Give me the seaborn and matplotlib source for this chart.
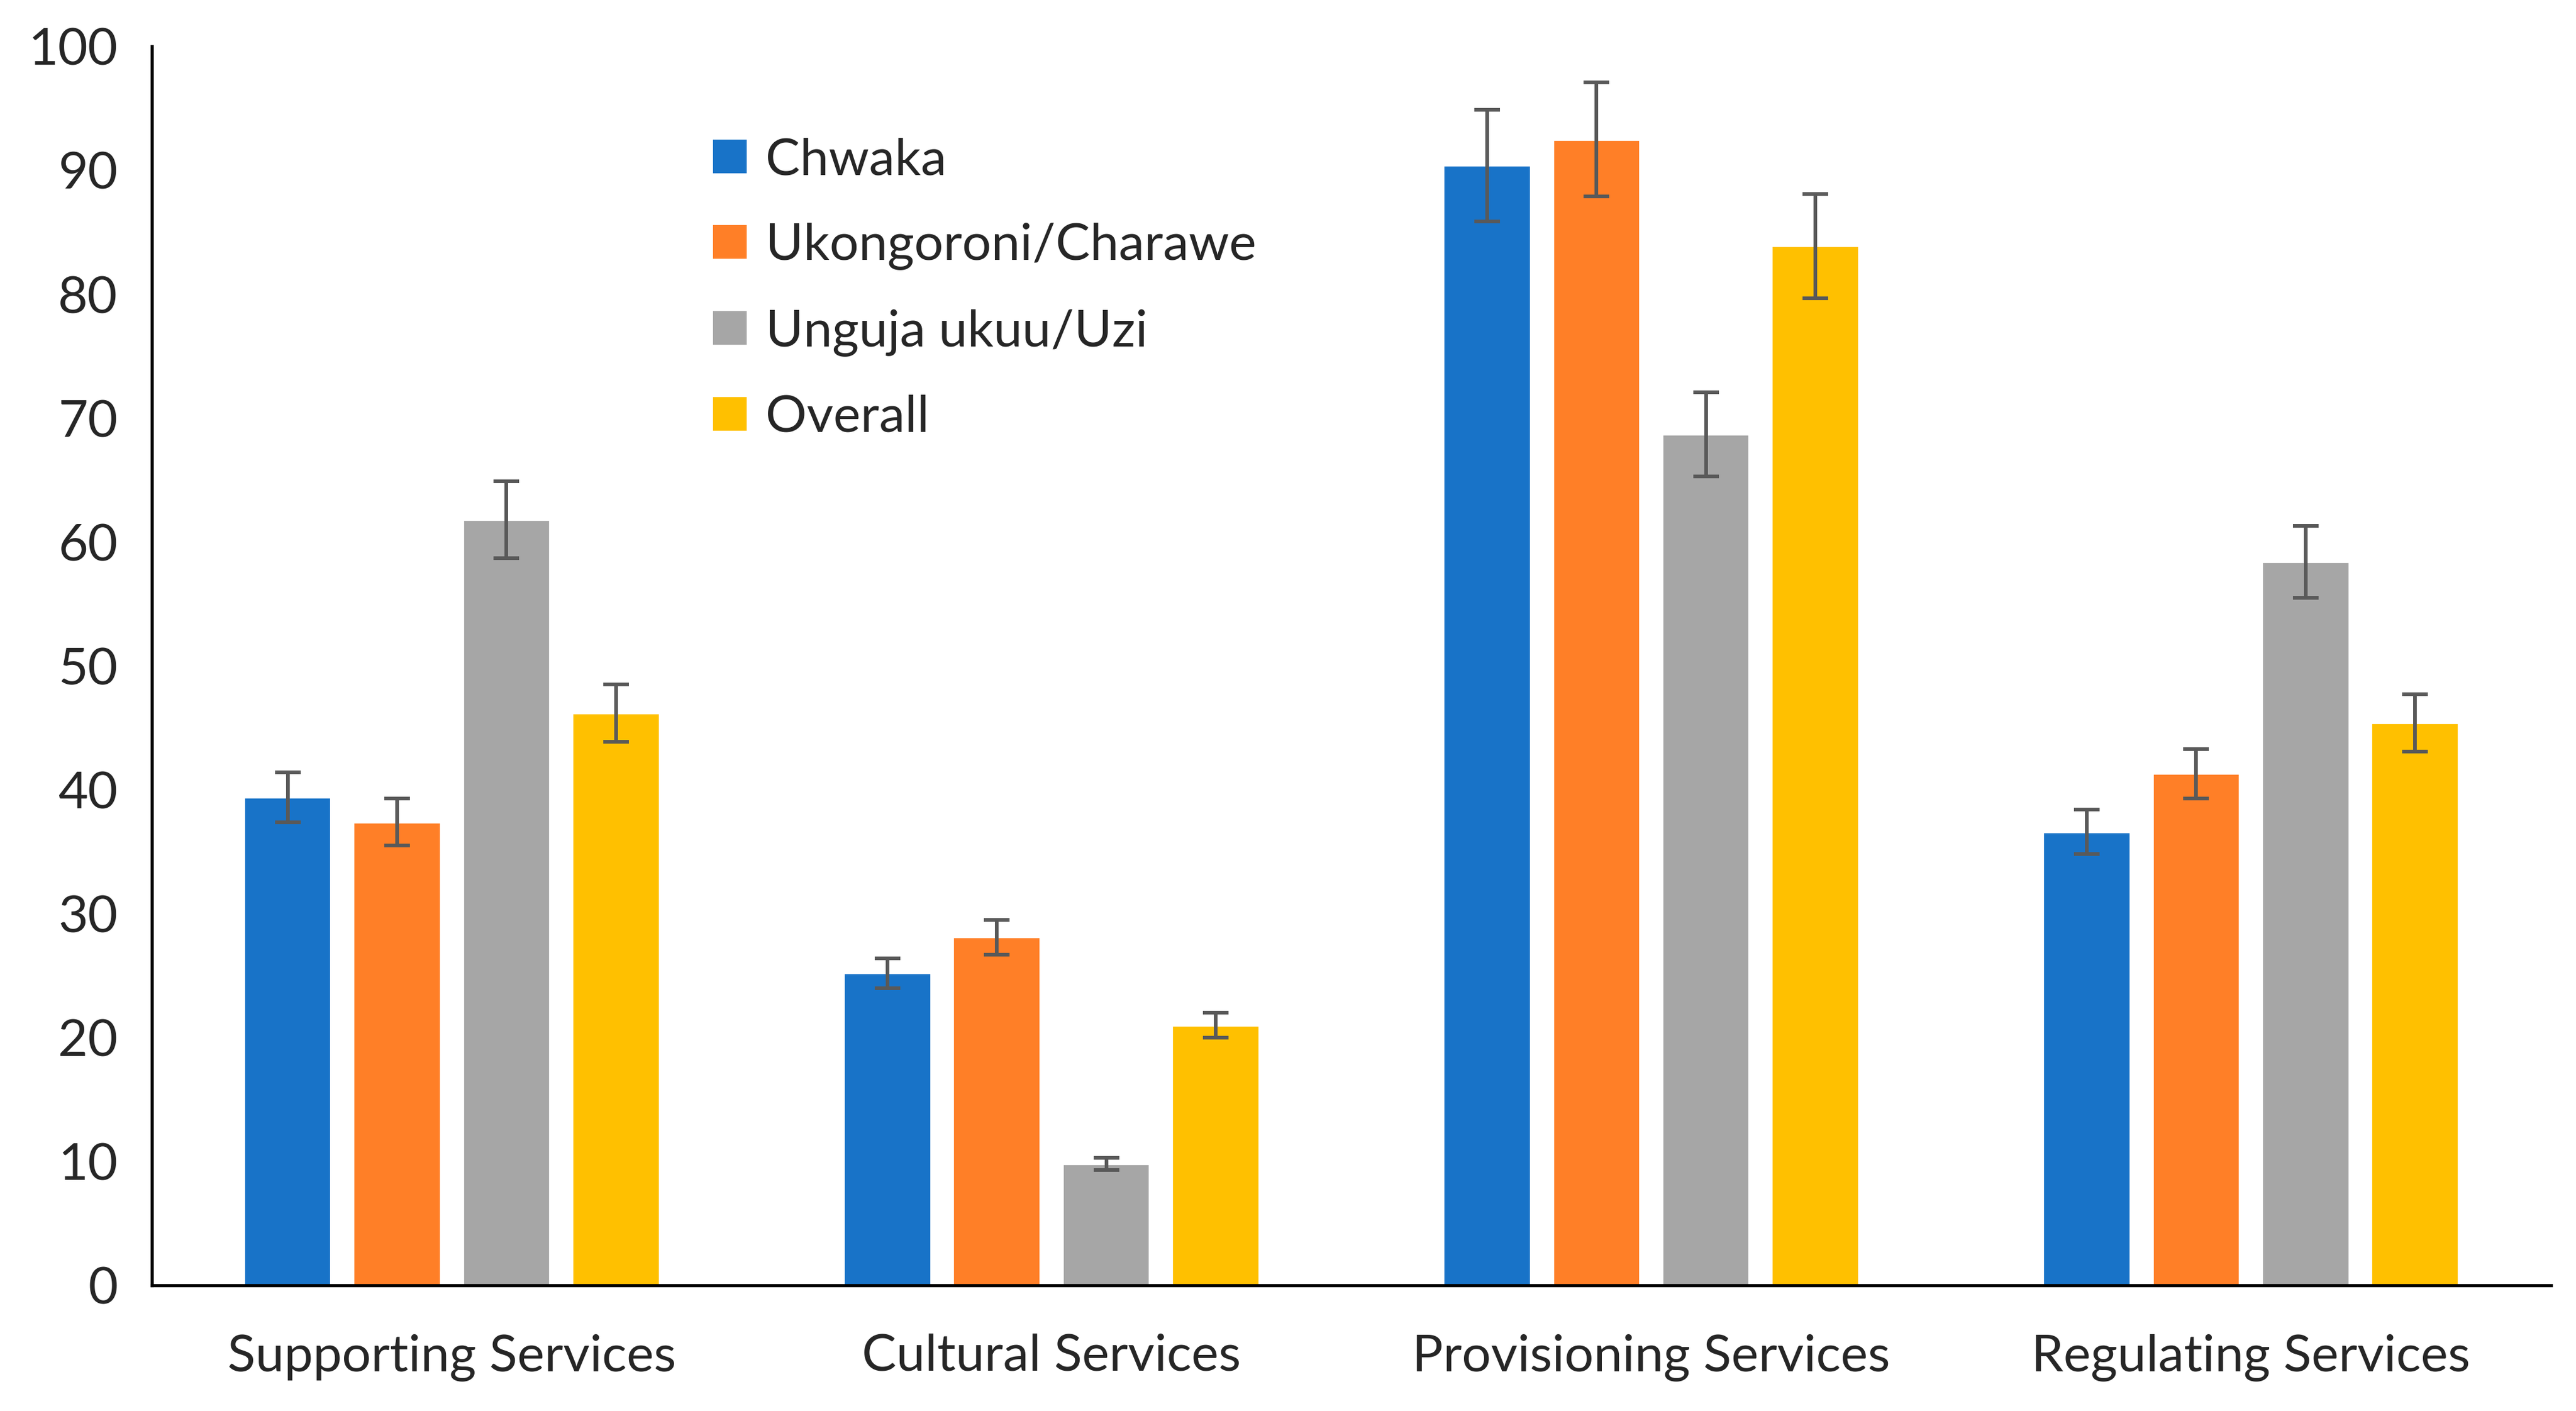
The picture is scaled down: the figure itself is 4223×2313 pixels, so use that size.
import pandas as pd
import seaborn as sns
import matplotlib.pyplot as plt

categories = ["Supporting Services", "Cultural Services", "Provisioning Services", "Regulating Services"]
sites = ["Chwaka", "Ukongoroni/Charawe", "Unguja ukuu/Uzi", "Overall"]
chwaka = [39.4, 25.2, 90.4, 36.6]
ukongoroni = [37.4, 28.1, 92.5, 41.3]
unguja = [61.8, 9.8, 68.7, 58.4]
overall = [46.2, 21.0, 83.9, 45.4]
err_chwaka = [2.0, 1.2, 4.5, 1.8]
err_ukongoroni = [1.9, 1.4, 4.6, 2.0]
err_unguja = [3.1, 0.5, 3.4, 2.9]
err_overall = [2.3, 1.0, 4.2, 2.3]
colors = ["#1873C8", "#FF7F27", "#A6A6A6", "#FFC000"]

rows = []
for s, vals, errs in zip(sites, [chwaka, ukongoroni, unguja, overall],
                         [err_chwaka, err_ukongoroni, err_unguja, err_overall]):
    for c, v, e in zip(categories, vals, errs):
        rows.append({"category": c, "site": s, "value": v, "err": e})
df = pd.DataFrame(rows)

sns.set_style("white")
plt.rcParams["font.family"] = ["Lato", "DejaVu Sans"]

fig = plt.figure(figsize=(15.644, 8.567), dpi=270)
ax = fig.add_axes([0.059, 0.089, 0.931, 0.878])

sns.barplot(data=df, x="category", y="value", hue="site", order=categories,
            hue_order=sites, palette=colors, errorbar=None, width=0.73,
            gap=0.2, saturation=1, ax=ax)

# error bars from bar patches
for cont, s in zip(ax.containers, sites):
    sub = df[df["site"] == s].set_index("category").loc[categories]
    xs = [p.get_x() + p.get_width() / 2 for p in cont.patches]
    ax.errorbar(xs, sub["value"], yerr=sub["err"], fmt="none",
                ecolor="#595959", elinewidth=1.6, capsize=5.5, capthick=1.6)

ax.set_ylim(0, 100)
ax.set_xlim(-0.5, 3.5)
ax.set_yticks(range(0, 101, 10))
ax.set_xlabel("")
ax.set_ylabel("")

ax.set_xticks([-0.5, 0.5, 1.5, 2.5, 3.5])
ax.set_xticklabels([])
ax.set_xticks(range(4), minor=True)
ax.set_xticklabels(categories, minor=True)
ax.tick_params(axis="x", which="major", direction="out", length=7, width=1.4, color="black")
ax.tick_params(axis="x", which="minor", length=0, labelsize=22.5, pad=21)
ax.tick_params(axis="y", direction="out", length=7, width=1.4, color="black", labelsize=22.5, pad=8)

for side in ["top", "right"]:
    ax.spines[side].set_visible(False)
for side in ["left", "bottom"]:
    ax.spines[side].set_color("black")
    ax.spines[side].set_linewidth(1.4)

ax.legend(loc="upper left", bbox_to_anchor=(0.214, 0.964), frameon=False,
          fontsize=22.5, handlelength=0.7, handleheight=0.7,
          handletextpad=0.35, labelspacing=0.75)

fig.savefig("out.png", dpi=270)
